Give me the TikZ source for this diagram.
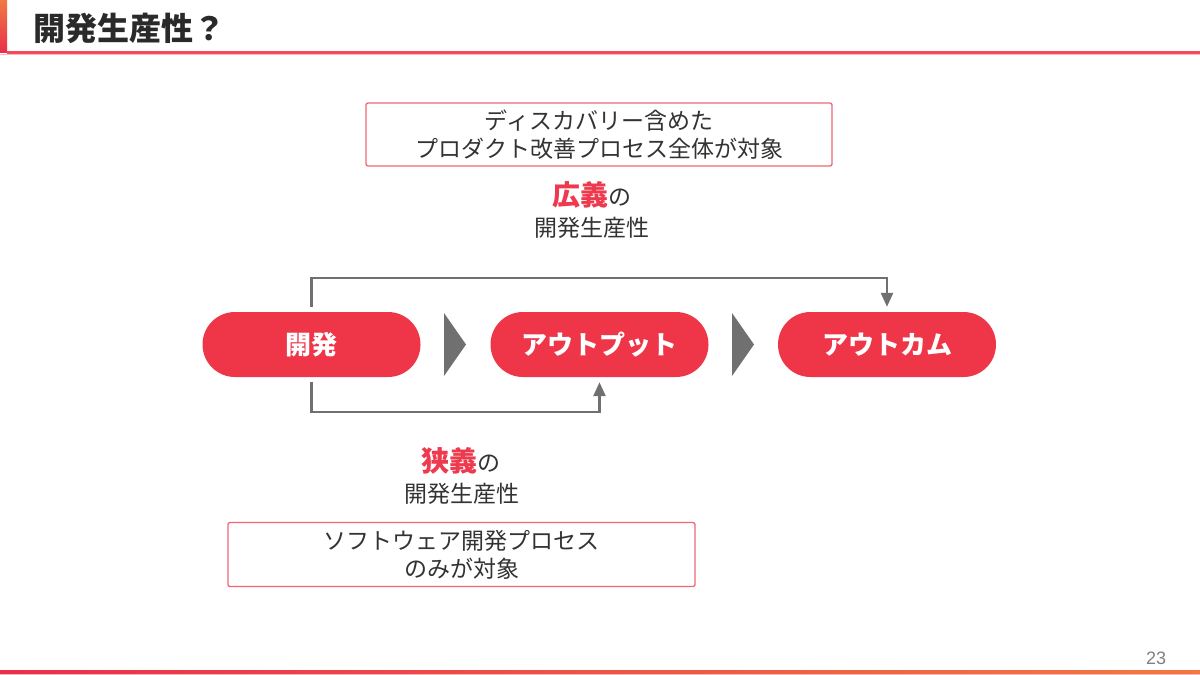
\documentclass[tikz,border=0pt]{standalone}
\usepackage{fontspec}
\setmainfont{Noto Sans CJK JP}
\newfontfamily\numfont{Liberation Sans}
\usetikzlibrary{arrows.meta}
\definecolor{pillred}{HTML}{EF3649}
\definecolor{boxred}{HTML}{F06675}
\definecolor{accent}{HTML}{EE3A4E}
\definecolor{textdark}{HTML}{333333}
\definecolor{titledark}{HTML}{2A2A2A}
\definecolor{conngray}{HTML}{707070}
\definecolor{barorange}{HTML}{F07A42}
\definecolor{barred}{HTML}{E9304C}
\definecolor{hdrline}{HTML}{F04A5C}
\definecolor{hdrlight}{HTML}{F9B8C0}
\definecolor{pagegray}{HTML}{808080}
\tikzset{
  pill/.style={fill=pillred, rounded corners=32.5pt, minimum width=218pt, minimum height=65pt,
    inner sep=0pt, text=white, font=\bfseries\fontsize{26}{30}\selectfont},
  textbox/.style={draw=boxred, line width=1.3pt, rounded corners=2pt, align=center, inner sep=0pt,
    text=textdark, font=\fontsize{23}{28}\selectfont},
  label/.style={align=center, inner sep=0pt, text=textdark, font=\fontsize{23}{28}\selectfont},
  conn/.style={draw=conngray, line width=2.5pt, shorten <=5pt, shorten >=5pt,
    -{Triangle[length=14pt,width=12pt]}},
  chevron/.style={fill=conngray}
}
\begin{document}
\begin{tikzpicture}[x=1pt,y=-1pt]
\useasboundingbox (0,0) rectangle (1200,675);
\fill[white] (0,0) rectangle (1200,675);
% header
\shade[top color=barorange, bottom color=barred] (0,0) rectangle (7,52);
\fill[hdrline] (7,51) rectangle (1200,53.5);
\fill[hdrlight] (0,53.5) rectangle (1200,55);
\node[anchor=west, inner sep=0pt, text=titledark, font=\bfseries\fontsize{32}{38}\selectfont] (title) at (33,28) {開発生産性？};
% footer
\shade[left color=barred, right color=barorange] (0,670.5) rectangle (1200,673.5);
\fill[hdrlight] (0,673.5) rectangle (1200,675);
\node[inner sep=0pt, text=pagegray, font=\numfont\fontsize{18}{20}\selectfont] (page) at (1156,658) {23};
% top box and label
\node[textbox, minimum width=466pt, minimum height=63pt] (wide) at (599,134.5) {ディスカバリー含めた\\プロダクト改善プロセス全体が対象};
\node[label] (widelabel) at (592,195) {\textcolor{accent}{\bfseries\fontsize{28}{30}\selectfont 広義}の};
\node[label] (widesub) at (592,228) {開発生産性};
% pills
\node[pill] (dev) at (311.5,344.5) {開発};
\node[pill] (output) at (599.5,344.5) {アウトプット};
\node[pill] (outcome) at (887,344.5) {アウトカム};
% chevrons
\fill[chevron] (444,313) -- (466,344.5) -- (444,376) -- cycle;
\fill[chevron] (732,313) -- (754,344.5) -- (732,376) -- cycle;
% connectors
\draw[conn] (dev.north) -- ++(0,-34) -| (outcome.north);
\draw[conn] (dev.south) -- ++(0,35) -| (output.south);
% bottom label and box
\node[label] (narrowlabel) at (461,461) {\textcolor{accent}{\bfseries\fontsize{28}{30}\selectfont 狭義}の};
\node[label] (narrowsub) at (461.5,494) {開発生産性};
\node[textbox, minimum width=467pt, minimum height=64pt] (narrow) at (461.5,554.5) {ソフトウェア開発プロセス\\のみが対象};
\end{tikzpicture}
\end{document}
